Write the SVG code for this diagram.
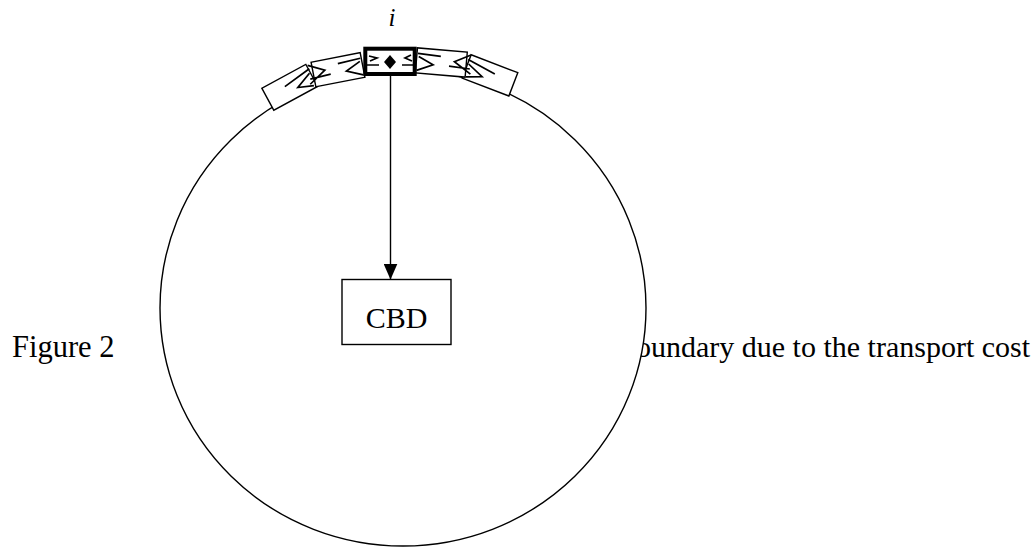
<svg xmlns="http://www.w3.org/2000/svg" width="1035" height="554" viewBox="0 0 1035 554">
<style>
.t{font-family:"Liberation Serif","Times New Roman",serif;fill:#000}
.ln{fill:none;stroke:#000;stroke-width:1.4}
.bx{fill:#fff;stroke:#000;stroke-width:1.4}
.gl{fill:none;stroke:#000;stroke-width:1.7;stroke-linejoin:miter}
</style>
<defs>
<marker id="ah" markerWidth="17" markerHeight="14" refX="16" refY="7" orient="auto" markerUnits="userSpaceOnUse" viewBox="0 0 17 14">
<path d="M0,0 L16,7 L0,14 Z" fill="#000"/>
</marker>
<g id="boxA">
<rect x="-25" y="-12.5" width="50" height="25" class="bx"/>
<path class="gl" d="M-24,-7 L-1,-6 M-23,-4 L-8,3 L-24,10 M8,3 L29,4 M29,-10 L13,-2 L30,9"/>
</g>
<g id="boxB">
<rect x="-25" y="-12.5" width="50" height="25" class="bx"/>
<path class="gl" d="M-26,-7 L4,-3 M-24,-3 L-7,4 L-22,10"/>
</g>
</defs>
<g id="caption">
<text class="t" x="12" y="357" font-size="30.5">Figure 2</text>
<text class="t" x="636" y="357" font-size="30">oundary due to the transport cost</text>
</g>
<g id="boundary">
<ellipse cx="403" cy="308" rx="243" ry="238" fill="#fff" stroke="#000" stroke-width="1.4"/>
</g>
<g id="connectors">
<line x1="390.5" y1="68" x2="390.5" y2="279.5" class="ln" marker-end="url(#ah)"/>
</g>
<g id="cbd">
<rect x="342" y="279.5" width="109" height="65" class="bx"/>
<text class="t" x="396.5" y="328" font-size="30" text-anchor="middle">CBD</text>
</g>
<g id="zone-l2"><use href="#boxB" transform="translate(289.8,87.3) rotate(-28.5) scale(-1,1)"/></g>
<g id="zone-l1"><use href="#boxA" transform="translate(338,69.7) rotate(-11) scale(-1,1)"/></g>
<g id="zone-r2"><use href="#boxB" transform="translate(490,75.4) rotate(21)"/></g>
<g id="zone-r1"><use href="#boxA" transform="translate(441.3,62.5) rotate(5)"/></g>
<g id="zone-i">
<rect x="365.3" y="48.7" width="49.4" height="25.3" fill="#fff" stroke="#000" stroke-width="4"/>
<path class="gl" d="M367,65 L379,65 M369,56 L377,58 L370,61 M402,65 L414,65 M411,55 L405,58 L412,61"/>
<path d="M390,55 L396,62 L390,69 L384,62 Z" fill="#000"/>
<text class="t" x="392" y="26" font-size="25" font-style="italic" text-anchor="middle">i</text>
</g>
</svg>
